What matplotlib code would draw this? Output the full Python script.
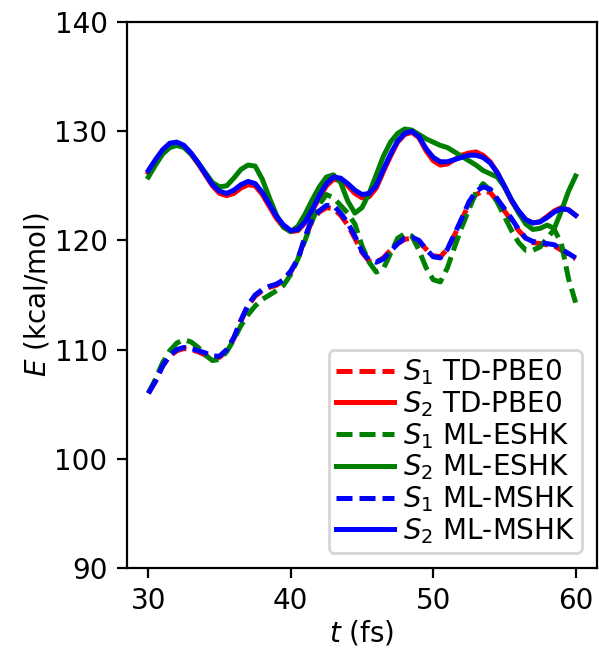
import numpy as np
import matplotlib
matplotlib.use('Agg')
import matplotlib.pyplot as plt

# time grid (fs)
t = np.linspace(30, 60, 61)

# S2 energies (kcal/mol)
s2_td = [126.2, 127.2, 128.1, 128.7, 128.9, 128.6, 127.9, 127.0, 126.0, 125.0,
         124.3, 124.1, 124.3, 124.8, 125.1, 125.0, 124.2, 123.1, 122.0, 121.2,
         120.8, 120.9, 121.6, 122.7, 123.9, 125.0, 125.6, 125.5, 125.0, 124.3,
         123.9, 124.0, 124.8, 126.3, 127.7, 129.0, 129.7, 129.9, 129.4, 128.2,
         127.3, 126.9, 127.0, 127.4, 127.8, 128.0, 128.1, 127.8, 127.2, 126.2,
         124.9, 123.6, 122.6, 121.9, 121.6, 121.7, 122.2, 122.7, 123.0, 122.8,
         122.3]
s2_eshk = [125.8, 126.9, 127.9, 128.5, 128.7, 128.5, 127.9, 127.1, 126.2, 125.3,
           124.9, 125.0, 125.7, 126.5, 126.9, 126.8, 125.6, 123.9, 122.3, 121.2,
           120.8, 121.3, 122.4, 123.7, 124.9, 125.8, 126.0, 125.3, 123.6, 122.5,
           123.0, 124.3, 126.0, 127.7, 129.0, 129.8, 130.2, 130.1, 129.7, 129.3,
           129.0, 128.7, 128.5, 128.1, 127.7, 127.3, 126.9, 126.4, 126.1, 125.8,
           124.9, 123.7, 122.5, 121.5, 121.0, 121.1, 121.4, 121.1, 122.7, 124.5,
           125.9]
s2_mshk = [126.4, 127.4, 128.3, 128.9, 129.0, 128.7, 128.0, 127.1, 126.1, 125.1,
           124.5, 124.3, 124.6, 125.1, 125.4, 125.2, 124.4, 123.3, 122.2, 121.4,
           120.9, 121.0, 121.7, 122.8, 124.1, 125.2, 125.8, 125.7, 125.2, 124.6,
           124.2, 124.3, 125.0, 126.5, 127.9, 129.1, 129.8, 130.0, 129.5, 128.4,
           127.6, 127.2, 127.2, 127.4, 127.6, 127.8, 127.8, 127.6, 127.1, 126.2,
           125.0, 123.7, 122.7, 121.9, 121.6, 121.7, 122.1, 122.6, 122.9, 122.8,
           122.3]

# S1 energies (kcal/mol)
s1_td = [106.0, 107.1, 108.5, 109.4, 109.9, 110.1, 110.0, 109.8, 109.5, 109.2,
         109.3, 109.9, 111.0, 112.6, 114.0, 114.9, 115.4, 115.7, 115.9, 116.3,
         117.1, 118.3, 120.2, 121.8, 122.6, 123.0, 122.9, 122.3, 121.4, 120.2,
         118.9, 118.1, 118.0, 118.4, 119.1, 119.7, 120.1, 120.2, 119.9, 119.2,
         118.6, 118.5, 119.2, 120.5, 121.9, 123.3, 124.2, 124.5, 124.4, 123.6,
         122.7, 121.8, 120.9, 120.2, 119.8, 119.7, 119.6, 119.5, 119.1, 118.7,
         118.3]
s1_eshk = [106.0, 107.3, 108.8, 109.9, 110.6, 110.9, 110.7, 110.2, 109.5, 109.0,
           109.1, 109.8, 110.9, 112.2, 113.2, 114.0, 114.6, 115.0, 115.4, 115.9,
           116.9, 118.3, 120.0, 121.8, 123.3, 124.2, 123.9, 123.2, 122.5, 121.5,
           119.5, 118.0, 117.1, 117.4, 118.8, 120.2, 120.6, 120.4, 119.1, 117.5,
           116.4, 116.2, 117.5, 119.4, 121.2, 122.8, 124.4, 125.2, 124.6, 123.5,
           122.2, 120.9, 119.8, 119.1, 119.1, 119.4, 120.2, 121.0, 119.7, 116.5,
           114.3]
s1_mshk = [106.0, 107.1, 108.5, 109.5, 110.0, 110.2, 110.1, 109.9, 109.7, 109.4,
           109.4, 110.0, 111.1, 112.7, 114.1, 115.0, 115.5, 115.8, 116.0, 116.4,
           117.2, 118.3, 120.3, 122.0, 122.7, 123.2, 123.2, 122.5, 121.6, 120.4,
           119.0, 118.2, 118.0, 118.3, 119.0, 119.7, 120.2, 120.3, 120.0, 119.2,
           118.5, 118.4, 119.2, 120.6, 122.0, 123.5, 124.5, 124.9, 124.7, 123.8,
           122.9, 122.0, 121.0, 120.2, 119.9, 119.8, 119.7, 119.6, 119.2, 118.8,
           118.4]

plt.rcParams['font.size'] = 10
fig = plt.figure(figsize=(2.995, 3.25), dpi=200)
ax = fig.add_axes([127/599, 1 - 568/650, 470/599, 546/650])

lw = 1.8
dash = (0, (3.2, 1.4))
ax.plot(t, s1_td, linestyle=dash, color='red', lw=lw, label=r'$S_1$ TD-PBE0')
ax.plot(t, s2_td, '-', color='red', lw=lw, label=r'$S_2$ TD-PBE0')
ax.plot(t, s1_eshk, linestyle=dash, color='green', lw=lw, label=r'$S_1$ ML-ESHK')
ax.plot(t, s2_eshk, '-', color='green', lw=lw, label=r'$S_2$ ML-ESHK')
ax.plot(t, s1_mshk, linestyle=dash, color='blue', lw=lw, label=r'$S_1$ ML-MSHK')
ax.plot(t, s2_mshk, '-', color='blue', lw=lw, label=r'$S_2$ ML-MSHK')

ax.set_ylim(90, 140)
ax.set_xticks([30, 40, 50, 60])
ax.set_xlabel(r'$t$ (fs)', labelpad=1)
ax.set_ylabel(r'$E$ (kcal/mol)', labelpad=1)
ax.legend(loc='lower right', fontsize=10, labelspacing=0.07, handlelength=2.1,
          handletextpad=0.3, borderpad=0.25, borderaxespad=0.55)

plt.savefig('out.png', dpi=200)
